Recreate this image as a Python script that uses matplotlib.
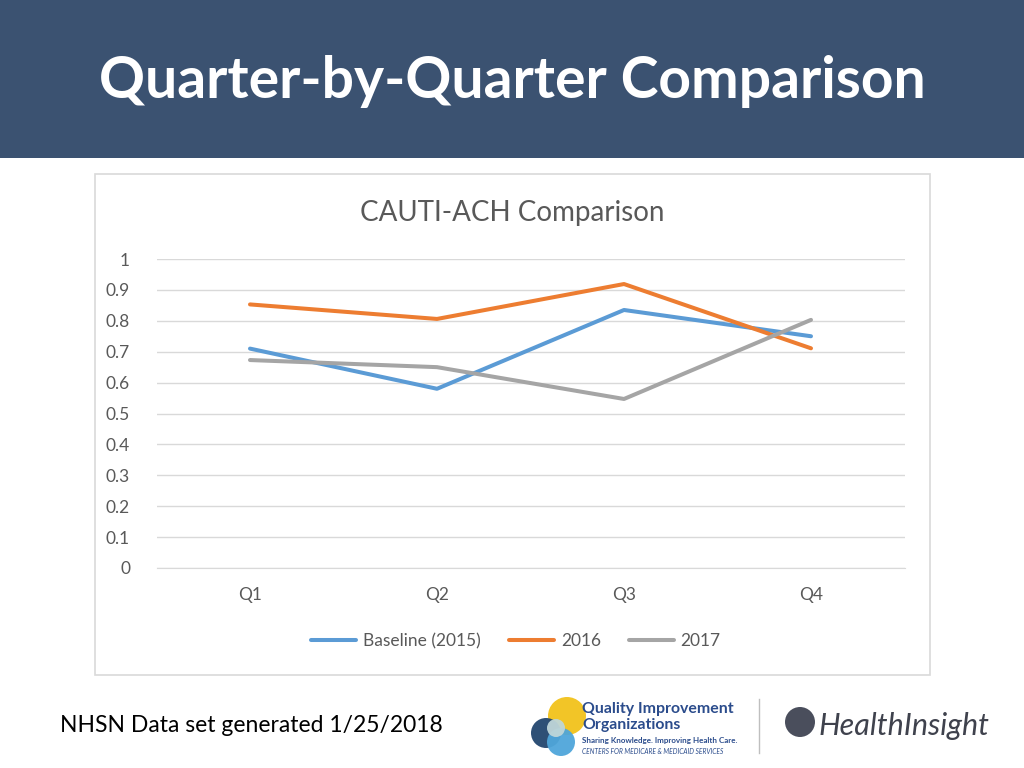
import numpy as np
import matplotlib.pyplot as plt
from matplotlib.patches import Rectangle, Circle
from matplotlib.transforms import IdentityTransform

# data
quarters = ["Q1", "Q2", "Q3", "Q4"]
baseline_2015 = [0.71, 0.58, 0.835, 0.75]
vals_2016 = [0.853, 0.806, 0.919, 0.711]
vals_2017 = [0.673, 0.65, 0.547, 0.803]
series_names = ["Baseline (2015)", "2016", "2017"]
colors = ["#5B9BD5", "#ED7D31", "#A5A5A5"]
yticks = np.round(np.arange(0, 1.01, 0.1), 1)

plt.rcParams['font.family'] = ['Lato', 'DejaVu Sans']

W, H = 1024, 768
fig = plt.figure(figsize=(W / 100, H / 100), dpi=100)
fig.patch.set_facecolor("white")

def fx(px):
    return px / W

def fy(py):
    return 1 - py / H

# header band
fig.add_artist(Rectangle((0, fy(158)), 1, 158 / H, transform=fig.transFigure,
                         facecolor="#3B5271", edgecolor="none", zorder=0))
fig.text(0.5, fy(82), "Quarter-by-Quarter Comparison", color="white",
         fontsize=41, fontweight="bold", ha="center", va="center")

# chart frame
fig.add_artist(Rectangle((fx(95), fy(675)), fx(835), 501 / H, transform=fig.transFigure,
                         facecolor="white", edgecolor="#D9D9D9", lw=1.2, zorder=1))

ax = fig.add_axes([fx(156.5), fy(568), fx(904.5 - 156.5), (568 - 259) / H])
ax.set_zorder(2)
ax.patch.set_alpha(0)
x = np.arange(len(quarters))
lines = []
for vals, name, c in zip([baseline_2015, vals_2016, vals_2017], series_names, colors):
    ln, = ax.plot(x, vals, color=c, lw=2.9, label=name, solid_capstyle="round")
    lines.append(ln)

ax.set_xlim(-0.5, 3.5)
ax.set_ylim(0, 1)
ax.set_yticks(yticks)
ax.set_yticklabels([f"{v:g}" for v in yticks])
ax.set_xticks(x)
ax.set_xticklabels(quarters)
ax.grid(axis="y", color="#D9D9D9", lw=1)
ax.set_axisbelow(True)
for s in ["top", "right", "left"]:
    ax.spines[s].set_visible(False)
ax.spines["bottom"].set_color("#D9D9D9")
ax.tick_params(axis="both", length=0, labelsize=12.5, labelcolor="#595959")
ax.tick_params(axis="y", pad=19)
ax.tick_params(axis="x", pad=14)

fig.text(0.5, fy(213), "CAUTI-ACH Comparison", color="#595959", fontsize=20,
         ha="center", va="center")

fig.legend(handles=lines, loc="center", bbox_to_anchor=(fx(516), fy(641)), ncol=3,
           frameon=False, fontsize=12.5, labelcolor="#595959", handlelength=2.6,
           columnspacing=1.6, handletextpad=0.4)

# footer
fig.text(fx(60), fy(726), "NHSN Data set generated 1/25/2018", color="black",
         fontsize=16.5, ha="left", va="center")

# QIO logo (approximation), circles drawn in pixel space so they stay round
for (cx, cy, r, c) in [(567, 716, 19, "#F2C21B"), (546, 733, 15, "#23466F"),
                       (561, 742, 14, "#4FA6DA"), (556, 728, 9, "#BFD6D9")]:
    fig.add_artist(Circle((cx, H - cy), r, transform=IdentityTransform(),
                          facecolor=c, edgecolor="none", alpha=0.95, zorder=3))
fig.text(fx(582), fy(709), "Quality Improvement", color="#2B4C8C", fontsize=11.4,
         fontweight="bold", ha="left", va="center")
fig.text(fx(582), fy(725), "Organizations", color="#2B4C8C", fontsize=11.4,
         fontweight="bold", ha="left", va="center")
fig.text(fx(582), fy(740), "Sharing Knowledge. Improving Health Care.", color="#2B4C8C",
         fontsize=5.8, fontweight="bold", ha="left", va="center")
fig.text(fx(582), fy(751), "CENTERS FOR MEDICARE & MEDICAID SERVICES", color="#2B4C8C",
         fontsize=4.8, style="italic", ha="left", va="center")
fig.add_artist(plt.Line2D([fx(759), fx(759)], [fy(699), fy(753)], transform=fig.transFigure,
                          color="#BFBFBF", lw=1))

# HealthInsight logo (approximation)
fig.add_artist(Circle((800, H - 722), 15, transform=IdentityTransform(),
                      facecolor="#4A4E5C", edgecolor="none", zorder=3))
fig.text(fx(818), fy(726), "HealthInsight", color="#3F424D", fontsize=22,
         style="italic", ha="left", va="center")

fig.savefig("out.png", dpi=100)
